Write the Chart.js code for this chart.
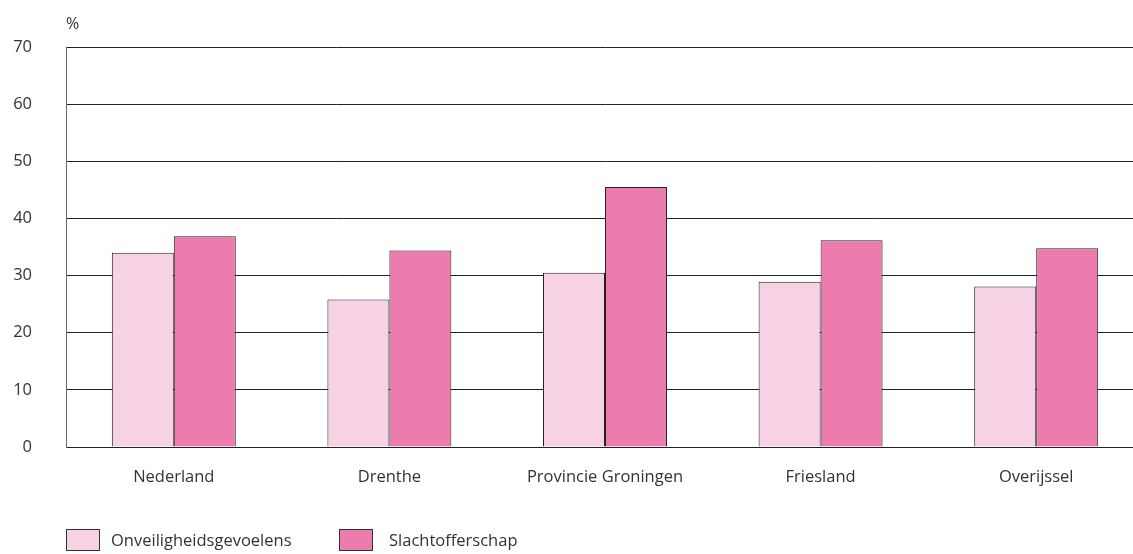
<!DOCTYPE html>
<html>
<head>
<meta charset="utf-8">
<script src="https://cdn.jsdelivr.net/npm/chart.js@4.4.1/dist/chart.umd.min.js"></script>
<style>
	html, body { margin: 0; padding: 0; background: #fff; overflow: hidden; }
	#wrap { position: relative; width: 1133px; height: 554px; overflow: hidden; }
	#legend { position: absolute; left: 66px; top: 529px; font-family: "Open Sans", sans-serif; font-size: 16.5px; color: #333; }
	#legend span.item { position: absolute; white-space: nowrap; top: 0; }
	#legend span.box { position: absolute; left: 0; top: 0; width: 32px; height: 20px; border: 1px solid #333; }
	#legend span.txt { position: absolute; top: 0; line-height: 22px; }
</style>
</head>
<body>
<div id="wrap">
	<!-- canvas iets breder dan het beeld: de grafiek loopt rechts door -->
	<canvas id="grafiek" width="1144" height="554"></canvas>
	<div id="legend"></div>
</div>
<script>
var regios = ["Nederland", "Drenthe", "Provincie Groningen", "Friesland", "Overijssel"];
var onveiligheid = [34.0, 25.8, 30.5, 28.9, 28.1];
var slachtoffer = [36.9, 34.4, 45.5, 36.2, 34.8];
var yTicks = [0, 10, 20, 30, 40, 50, 60, 70];

var reeksNamen = ["Onveiligheidsgevoelens", "Slachtofferschap"];
var kleuren = ["#f7d2e4", "#ec7cad"];

// "%" boven de y-as
var procentTeken = {
	id: "procentTeken",
	afterDraw: function (chart) {
		var ctx = chart.ctx;
		ctx.save();
		ctx.font = "16px 'Open Sans'";
		ctx.fillStyle = "#333";
		ctx.textBaseline = "middle";
		ctx.fillText("%", chart.chartArea.left, 24);
		ctx.restore();
	}
};

var ctx = document.getElementById("grafiek");

var data = {
	labels: regios,
	datasets: [{
			label: reeksNamen[0],
			data: onveiligheid,
			backgroundColor: kleuren[0],
			borderColor: "#222",
			borderWidth: 1
		},
		{
			label: reeksNamen[1],
			data: slachtoffer,
			backgroundColor: kleuren[1],
			borderColor: "#222",
			borderWidth: 1
		}
	]
};

var options = {
	responsive: false,
	animation: false,
	layout: {
		padding: { top: 47, right: 0, bottom: 0, left: 0 }
	},
	datasets: {
		bar: {
			barPercentage: 1,
			categoryPercentage: 0.575
		}
	},
	plugins: {
		legend: { display: false },
		tooltip: { enabled: false }
	},
	scales: {
		x: {
			grid: { display: false, drawTicks: false },
			border: { display: true, color: "#222" },
			ticks: {
				color: "#333",
				padding: 20,
				font: { family: "'Open Sans'", size: 16.5 }
			},
			afterFit: function (scale) { scale.height = 107; }
		},
		y: {
			min: 0,
			max: 70,
			afterBuildTicks: function (scale) {
				scale.ticks = yTicks.map(function (v) { return { value: v }; });
			},
			grid: { color: "#222", lineWidth: 1, drawTicks: false },
			border: { display: true, color: "#666" },
			ticks: {
				color: "#333",
				padding: 34,
				font: { family: "'Open Sans'", size: 16.5 }
			},
			afterFit: function (scale) { scale.width = 66; }
		}
	}
};

var chart = new Chart(ctx, {
	type: "bar",
	data: data,
	options: options,
	plugins: [procentTeken]
});

// legenda onder de grafiek
var legendX = [0, 273];
var leg = document.getElementById("legend");
reeksNamen.forEach(function (naam, i) {
	var item = document.createElement("span");
	item.className = "item";
	item.style.left = legendX[i] + "px";
	item.innerHTML = '<span class="box" style="background:' + kleuren[i] + '"></span>' +
		'<span class="txt" style="left:' + (i == 0 ? 45 : 50) + 'px">' + naam + '</span>';
	leg.appendChild(item);
});
</script>
</body>
</html>
